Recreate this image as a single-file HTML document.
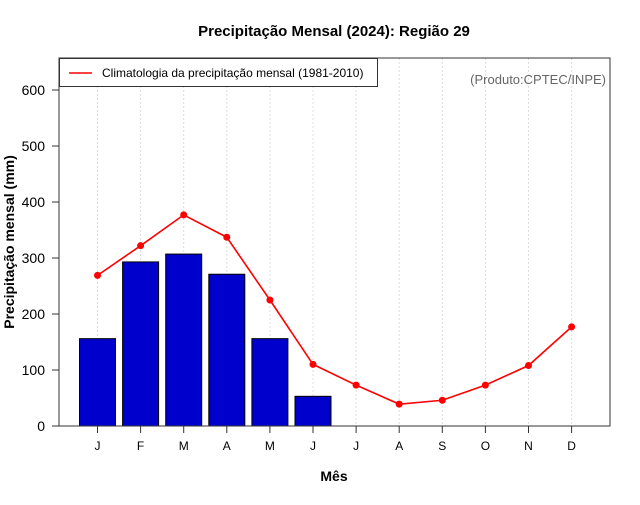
<!DOCTYPE html>
<html><head><meta charset="utf-8"><style>
body{margin:0;background:#fff}
svg text{font-family:"Liberation Sans",Arial,sans-serif}
</style></head><body>
<svg id="c" width="640" height="500" xmlns="http://www.w3.org/2000/svg">
<rect width="640" height="500" fill="#fff"/>
<text x="334" y="36" text-anchor="middle" font-size="15" font-weight="bold">Precipitação Mensal (2024): Região 29</text>
<text x="334" y="481" text-anchor="middle" font-size="14" font-weight="bold">Mês</text>
<text transform="translate(14,242) rotate(-90)" text-anchor="middle" font-size="14" font-weight="bold">Precipitação mensal (mm)</text>
<g id="grid"></g><g id="bars"></g><g id="line"></g><g id="axes"></g>
<rect x="59" y="58" width="551" height="368" fill="none" stroke="#333" stroke-width="1"/>
<g>
<rect x="59.5" y="58.5" width="318" height="28" fill="#fff" stroke="#333"/>
<line x1="69" y1="73" x2="92" y2="73" stroke="red" stroke-width="1.5"/>
<text x="102" y="77" font-size="12">Climatologia da precipitação mensal (1981-2010)</text>
</g>
<text x="606" y="84" text-anchor="end" font-size="13" fill="#666">(Produto:CPTEC/INPE)</text>
</svg>
<script>
const months=["J","F","M","A","M","J","J","A","S","O","N","D"];
const observed=[156,293,307,271,156,53];
const climatology=[269,322,377,337,225,110,73,39,46,73,108,177];
const yTicks=[0,100,200,300,400,500,600];
const NS="http://www.w3.org/2000/svg";
const X=i=>97.5+i*43.1;
const Y=v=>426-v*0.56;
function mk(t,a,p){const e=document.createElementNS(NS,t);for(const k in a)e.setAttribute(k,a[k]);p.appendChild(e);return e;}
const g=document.getElementById('grid'),b=document.getElementById('bars'),l=document.getElementById('line'),ax=document.getElementById('axes');
months.forEach((m,i)=>{
 const gl=mk('line',{x1:X(i),x2:X(i),y1:58,y2:426,stroke:'#ddd','stroke-dasharray':'2,2'},g);
 
 
 const t=mk('line',{x1:X(i),x2:X(i),y1:426,y2:433,stroke:'#333'},ax);
 
 
 const tx=mk('text',{x:X(i),y:450,'text-anchor':'middle','font-size':12},ax);tx.textContent=m;
 
 
});
yTicks.forEach(v=>{
 const t=mk('line',{x1:52,x2:59,y1:Y(v),y2:Y(v),stroke:'#333'},ax);
 
 
 const tx=mk('text',{x:45,y:Y(v)+5,'text-anchor':'end','font-size':14},ax);tx.textContent=v;
 
 
});
observed.forEach((v,i)=>{
 const r=mk('rect',{x:X(i)-18,y:Y(v),width:36,height:Y(0)-Y(v),fill:'#0000cd',stroke:'#000'},b);
 
 
});
const pl=mk('polyline',{points:climatology.map((v,i)=>X(i)+','+Y(v)).join(' '),fill:'none',stroke:'red','stroke-width':1.6},l);


climatology.forEach((v,i)=>{
 const c=mk('circle',{cx:X(i),cy:Y(v),r:3.5,fill:'red'},l);
 
 
});
</script>
</body></html>
